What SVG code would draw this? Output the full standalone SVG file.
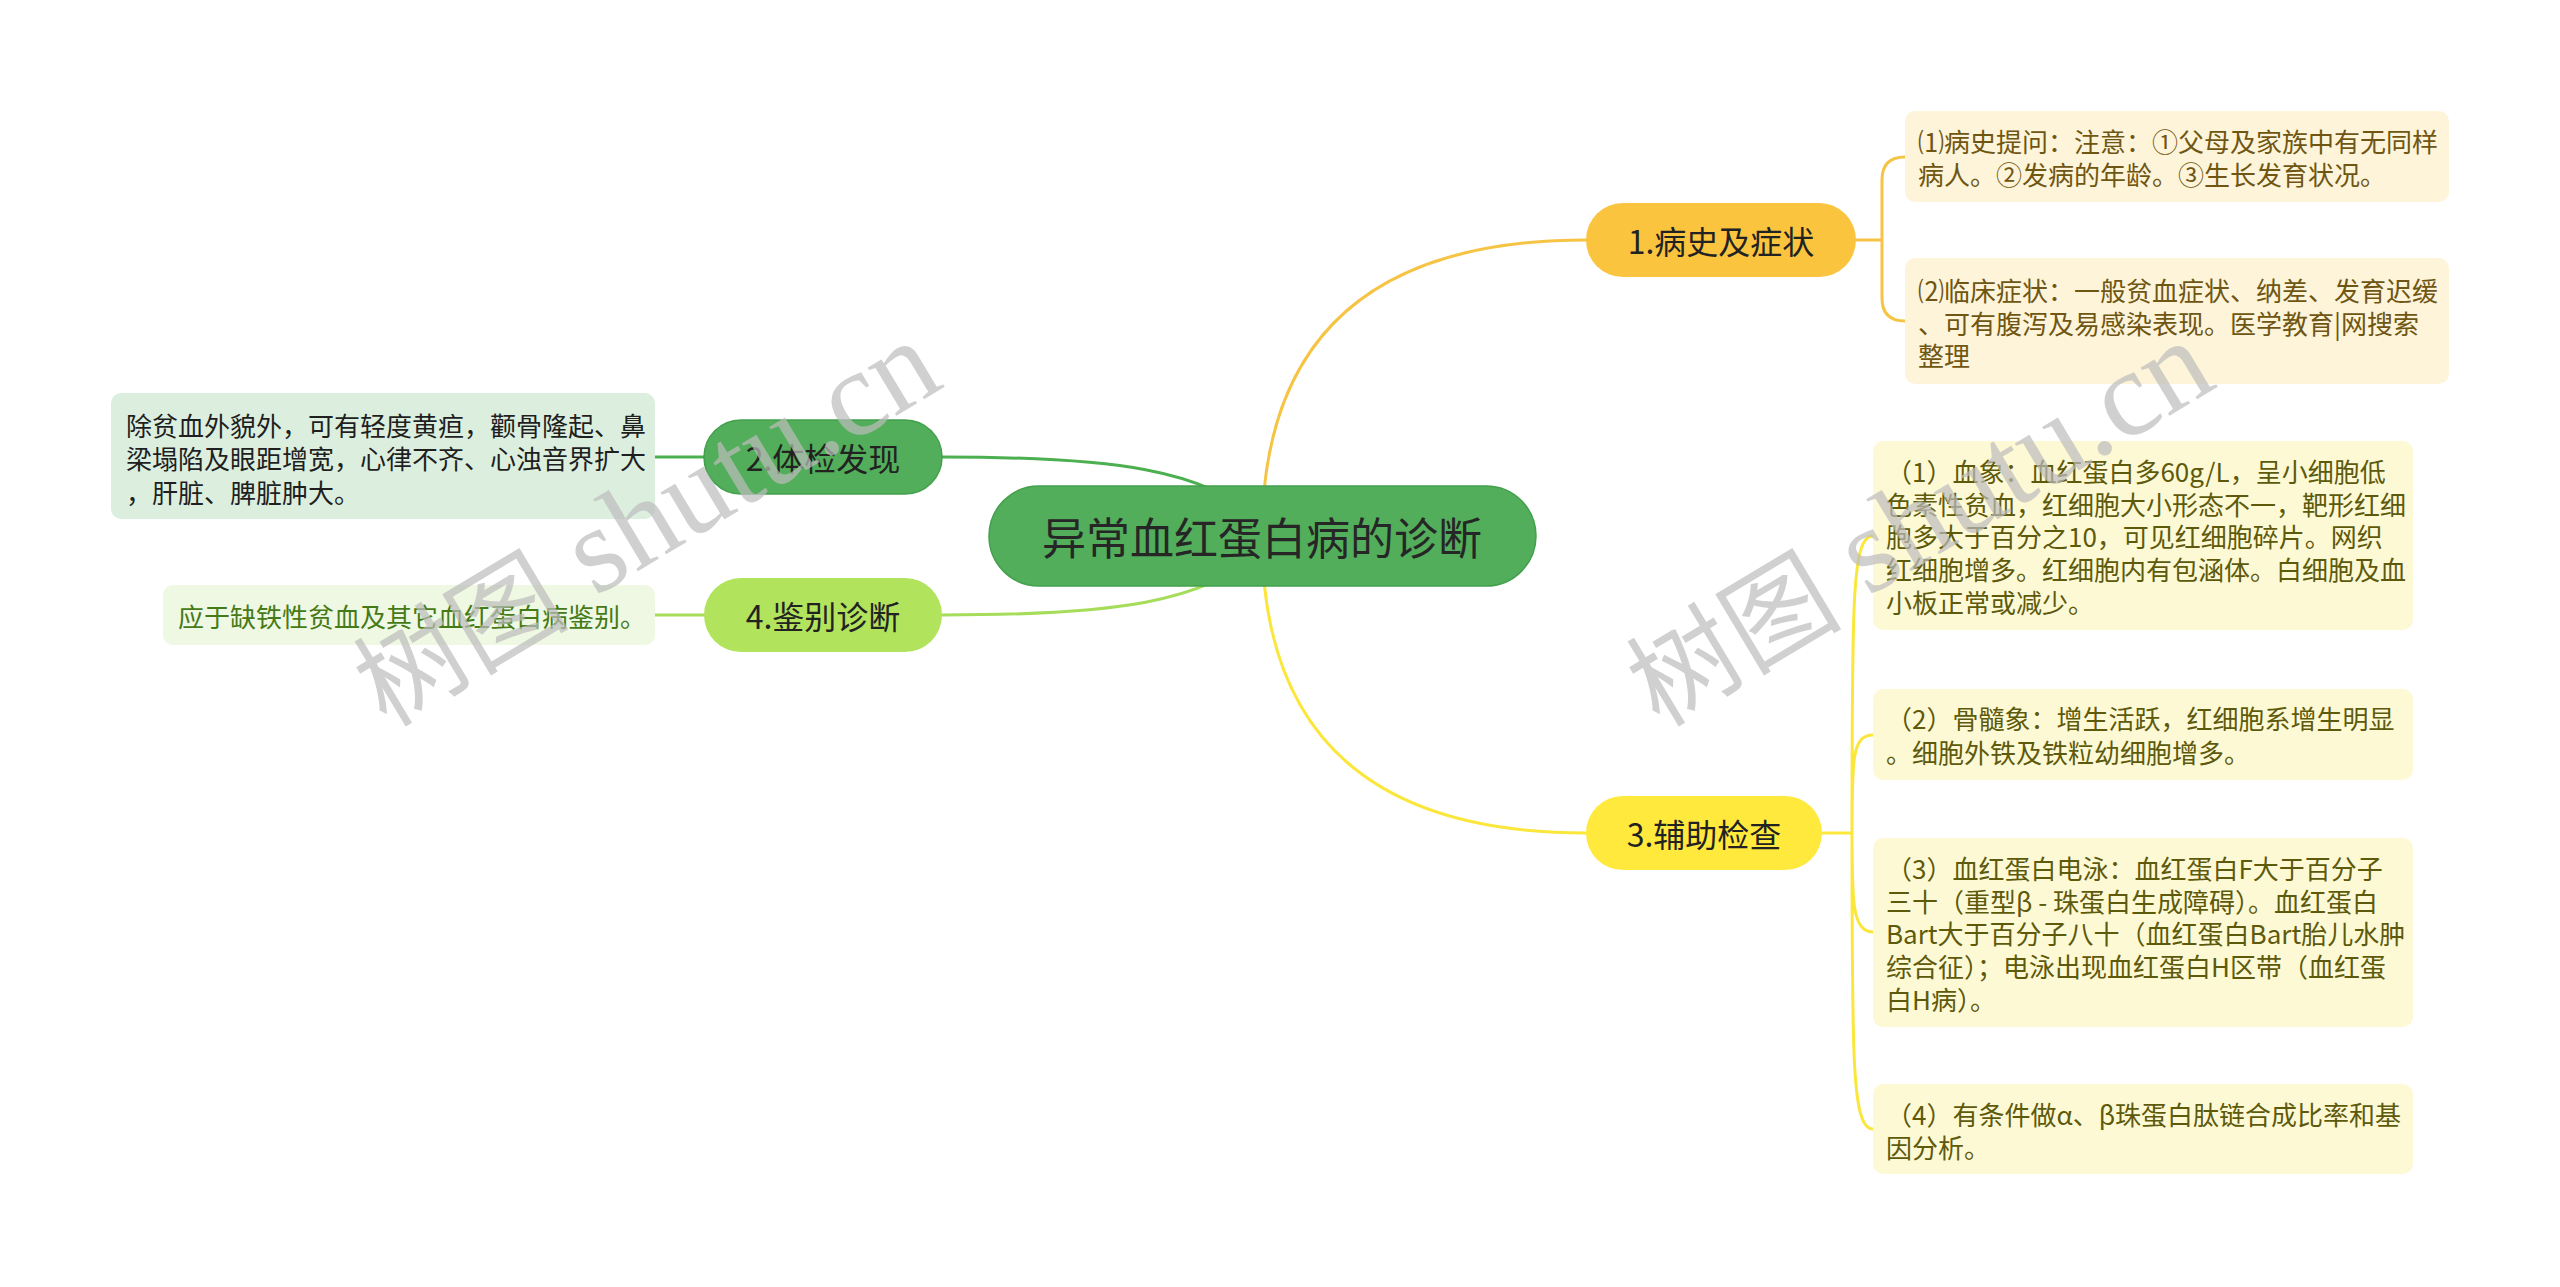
<svg xmlns="http://www.w3.org/2000/svg" width="2560" height="1287" viewBox="0 0 2560 1287">
<style>
text, tspan { font-family: "Noto Sans CJK SC", "Liberation Sans", sans-serif; dominant-baseline: central; }
.main { font-size: 32px; fill: #222; text-anchor: middle; }
.root { font-size: 44px; fill: #262626; text-anchor: middle; }
.leaf { font-size: 26px; }
.c { fill: none; stroke-width: 3; stroke-linecap: round; }
.wm { font-size: 108px; fill: #bdbdbd; opacity: 0.7; }
tspan.wms { font-family: "Liberation Serif", serif; font-size: 122px; }
</style>
<rect width="2560" height="1287" fill="#ffffff"/>
<g id="connectors">
  <path class="c" stroke="#f6c445" d="M1262 536 Q1262 240 1586 240"/>
  <path class="c" stroke="#fbe63c" d="M1262 536 Q1262 833 1586 833"/>
  <path class="c" stroke="#4caf50" d="M942 457 C1120 457 1200 470 1262 520"/>
  <path class="c" stroke="#a5dc5a" d="M942 615 C1120 615 1200 602 1262 552"/>
  <path class="c" stroke="#4caf50" d="M704 457 L655 457"/>
  <path class="c" stroke="#a5dc5a" d="M704 615 L655 615"/>
  <path class="c" stroke="#f6c445" d="M1856 240 L1882 240 M1882 240 L1882 180 Q1882 157 1905 157 M1882 240 L1882 298 Q1882 321 1905 321"/>
  <path class="c" stroke="#fbe63c" d="M1822 833 L1852 833 M1852 833 C1852 600 1852 536 1873 536 M1852 833 C1852 760 1852 735 1873 735 M1852 833 C1852 900 1852 932 1873 932 M1852 833 C1852 1060 1852 1129 1873 1129"/>
</g>
<g id="root">
  <rect x="989" y="486" width="547" height="100" rx="50" fill="#52ae5a" stroke="#43a04c" stroke-width="1.5"/>
  <text class="root" x="1262" y="536">异常血红蛋白病的诊断</text>
</g>
<g id="n1">
  <rect x="1586" y="203" width="270" height="74" rx="37" fill="#fac43f"/>
  <text class="main" x="1721" y="240">1.病史及症状</text>
</g>
<g id="n3">
  <rect x="1586" y="796" width="236" height="74" rx="37" fill="#ffe93c"/>
  <text class="main" x="1704" y="833">3.辅助检查</text>
</g>
<g id="n2">
  <rect x="704" y="420" width="238" height="74" rx="37" fill="#52ae5a" stroke="#43a04c" stroke-width="1.5"/>
  <text class="main" x="823" y="457">2.体检发现</text>
</g>
<g id="n4">
  <rect x="704" y="578" width="238" height="74" rx="37" fill="#b2e35d"/>
  <text class="main" x="823" y="615">4.鉴别诊断</text>
</g>
<g id="l1a">
  <rect x="1905" y="111" width="544" height="91" rx="10" fill="#fdf4da"/>
  <text class="leaf" fill="#6f5612"><tspan x="1918" y="140">⑴病史提问：注意：①父母及家族中有无同样</tspan><tspan x="1918" y="173">病人。②发病的年龄。③生长发育状况。</tspan></text>
</g>
<g id="l1b">
  <rect x="1905" y="258" width="544" height="126" rx="10" fill="#fdf4da"/>
  <text class="leaf" fill="#6f5612"><tspan x="1918" y="289">⑵临床症状：一般贫血症状、纳差、发育迟缓</tspan><tspan x="1918" y="322">、可有腹泻及易感染表现。医学教育|网搜索</tspan><tspan x="1918" y="354">整理</tspan></text>
</g>
<g id="l3a">
  <rect x="1873" y="441" width="540" height="189" rx="10" fill="#fdf9d5"/>
  <text class="leaf" fill="#5e5a0c"><tspan x="1886" y="470">（1）血象：血红蛋白多60g/L，呈小细胞低</tspan><tspan x="1886" y="503">色素性贫血，红细胞大小形态不一，靶形红细</tspan><tspan x="1886" y="535">胞多大于百分之10，可见红细胞碎片。网织</tspan><tspan x="1886" y="568">红细胞增多。红细胞内有包涵体。白细胞及血</tspan><tspan x="1886" y="601">小板正常或减少。</tspan></text>
</g>
<g id="l3b">
  <rect x="1873" y="689" width="540" height="91" rx="10" fill="#fdf9d5"/>
  <text class="leaf" fill="#5e5a0c"><tspan x="1886" y="717">（2）骨髓象：增生活跃，红细胞系增生明显</tspan><tspan x="1886" y="751">。细胞外铁及铁粒幼细胞增多。</tspan></text>
</g>
<g id="l3c">
  <rect x="1873" y="838" width="540" height="189" rx="10" fill="#fdf9d5"/>
  <text class="leaf" fill="#5e5a0c"><tspan x="1886" y="867">（3）血红蛋白电泳：血红蛋白F大于百分子</tspan><tspan x="1886" y="900">三十（重型β - 珠蛋白生成障碍）。血红蛋白</tspan><tspan x="1886" y="932">Bart大于百分子八十（血红蛋白Bart胎儿水肿</tspan><tspan x="1886" y="965">综合征）；电泳出现血红蛋白H区带（血红蛋</tspan><tspan x="1886" y="998">白H病）。</tspan></text>
</g>
<g id="l3d">
  <rect x="1873" y="1084" width="540" height="90" rx="10" fill="#fdf9d5"/>
  <text class="leaf" fill="#5e5a0c"><tspan x="1886" y="1113">（4）有条件做α、β珠蛋白肽链合成比率和基</tspan><tspan x="1886" y="1146">因分析。</tspan></text>
</g>
<g id="l2">
  <rect x="111" y="393" width="544" height="126" rx="10" fill="#dcefdf"/>
  <text class="leaf" fill="#1f1f1f"><tspan x="126" y="424">除贫血外貌外，可有轻度黄疸，颧骨隆起、鼻</tspan><tspan x="126" y="457">梁塌陷及眼距增宽，心律不齐、心浊音界扩大</tspan><tspan x="126" y="491">，肝脏、脾脏肿大。</tspan></text>
</g>
<g id="l4">
  <rect x="163" y="585" width="492" height="60" rx="10" fill="#eef8e2"/>
  <text class="leaf" fill="#467a16" x="178" y="615">应于缺铁性贫血及其它血红蛋白病鉴别。</text>
</g>
<g id="watermarks">
  <text class="wm" transform="translate(362 688) rotate(-31)"><tspan>树图</tspan><tspan class="wms"> shutu.cn</tspan></text>
  <text class="wm" transform="translate(1635 688) rotate(-31)"><tspan>树图</tspan><tspan class="wms"> shutu.cn</tspan></text>
</g>
</svg>
